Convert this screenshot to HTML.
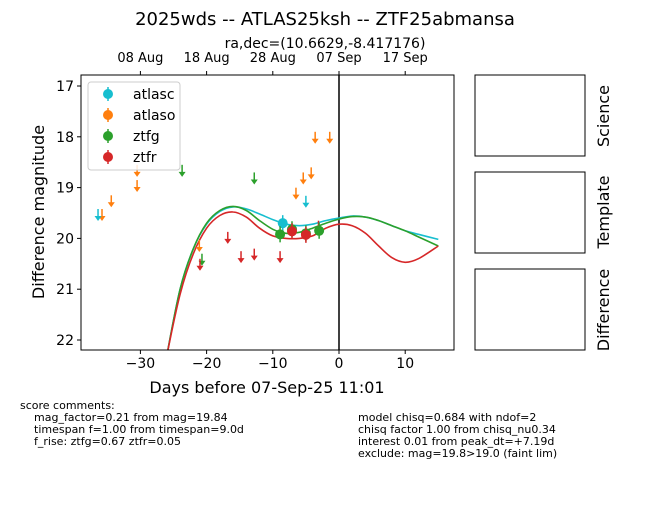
<!DOCTYPE html>
<html><head><meta charset="utf-8"><style>
body{margin:0;background:#fff;font-family:"Liberation Sans","DejaVu Sans",sans-serif;}
svg text{font-family:"DejaVu Sans","Liberation Sans",sans-serif;}
</style></head><body>
<svg id="chart" width="650" height="500" viewBox="0 0 650 500" xmlns="http://www.w3.org/2000/svg">
<text x="325" y="25" font-size="18" text-anchor="middle">2025wds -- ATLAS25ksh -- ZTF25abmansa</text>
<text x="325" y="48" font-size="14" text-anchor="middle">ra,dec=(10.6629,-8.417176)</text>
<g id="plot"></g>
<rect x="475" y="75" width="110" height="81" fill="none" stroke="#000"/>
<rect x="475" y="172" width="110" height="81" fill="none" stroke="#000"/>
<rect x="475" y="269" width="110" height="81" fill="none" stroke="#000"/>
<text transform="translate(609,116) rotate(-90)" font-size="16" text-anchor="middle">Science</text>
<text transform="translate(609,212) rotate(-90)" font-size="16" text-anchor="middle">Template</text>
<text transform="translate(609,310) rotate(-90)" font-size="16" text-anchor="middle">Difference</text>
<g font-size="11">
<text x="20" y="409">score comments:</text>
<text x="34" y="421">mag_factor=0.21 from mag=19.84</text>
<text x="34" y="433">timespan f=1.00 from timespan=9.0d</text>
<text x="34" y="445">f_rise: ztfg=0.67 ztfr=0.05</text>
<text x="358" y="421">model chisq=0.684 with ndof=2</text>
<text x="358" y="433">chisq factor 1.00 from chisq_nu0.34</text>
<text x="358" y="445">interest 0.01 from peak_dt=+7.19d</text>
<text x="358" y="457">exclude: mag=19.8&gt;19.0 (faint lim)</text>
</g>
</svg>
<script>
const xTicks=[-30,-20,-10,0,10];
const yTicks=[17,18,19,20,21,22];
const topTickLabels=["08 Aug","18 Aug","28 Aug","07 Sep","17 Sep"];
const atlascLim=[[-36.4,19.52],[-5.0,19.26]];
const atlascDet=[[-8.5,19.7]];
const atlasoLim=[[-35.8,19.52],[-34.4,19.25],[-30.5,18.95],[-30.5,18.65],[-21.1,20.13],[-6.5,19.1],[-5.4,18.8],[-4.2,18.7],[-3.6,18.0],[-1.4,18.0]];
const ztfgLim=[[-23.7,18.65],[-12.8,18.8],[-20.7,20.4]];
const ztfgDet=[[-8.9,19.92],[-7.1,19.82],[-5.0,19.9],[-3.0,19.85]];
const ztfrLim=[[-16.8,19.97],[-14.8,20.35],[-12.8,20.3],[-21.0,20.5],[-8.9,20.35],[-3.1,19.75]];
const ztfrDet=[[-7.1,19.86],[-5.0,19.93]];
const curveDays=[-26.5,-26,-24,-22,-20,-18,-16,-14,-12,-10,-8,-6,-4,-2,0,2,4,6,8,10,12,15];
const curveG=[22.7,22.3,21.0,20.2,19.7,19.45,19.37,19.45,19.65,19.82,19.9,19.88,19.8,19.7,19.62,19.57,19.58,19.65,19.75,19.85,19.97,20.15];
const curveC=[22.7,22.3,21.0,20.2,19.72,19.47,19.38,19.42,19.52,19.63,19.72,19.75,19.72,19.65,19.6,19.56,19.58,19.65,19.75,19.85,19.92,20.02];
const curveR=[22.7,22.3,21.1,20.3,19.8,19.55,19.48,19.58,19.8,19.95,20.0,20.0,19.95,19.8,19.72,19.75,19.9,20.15,20.38,20.47,20.4,20.15];
const L=81,R=454,T=75,B=350;
const xs=d=>339+d*6.62;
const ys=m=>86+(m-17)*50.8;
const NS="http://www.w3.org/2000/svg";
const g=document.getElementById('plot');
function mk(tag,attrs,parent){const e=document.createElementNS(NS,tag);for(const k in attrs)e.setAttribute(k,attrs[k]);(parent||g).appendChild(e);return e;}
const defs=mk('defs',{});const cp=mk('clipPath',{id:'c'},defs);mk('rect',{x:L,y:T,width:R-L,height:B-T},cp);
const inner=mk('g',{'clip-path':'url(#c)'});
mk('line',{x1:xs(0),x2:xs(0),y1:T,y2:B,stroke:'#000','stroke-width':1.5},inner);
function curve(arr,col,name){
const P=curveDays.map((t,i)=>[xs(t),ys(arr[i])]);
let d='M'+P[0][0].toFixed(1)+','+P[0][1].toFixed(1);
for(let i=0;i<P.length-1;i++){const p0=P[Math.max(0,i-1)],p1=P[i],p2=P[i+1],p3=P[Math.min(P.length-1,i+2)];
const c1=[p1[0]+(p2[0]-p0[0])/6,p1[1]+(p2[1]-p0[1])/6];const c2=[p2[0]-(p3[0]-p1[0])/6,p2[1]-(p3[1]-p1[1])/6];
d+=`C${c1[0].toFixed(1)},${c1[1].toFixed(1)} ${c2[0].toFixed(1)},${c2[1].toFixed(1)} ${p2[0].toFixed(1)},${p2[1].toFixed(1)}`;}
const p=mk('path',{d:d,fill:'none',stroke:col,'stroke-width':1.6,'stroke-linejoin':'round'},inner);

}
curve(curveC,'#17becf','model-atlasc');curve(curveG,'#2ca02c','model-ztfg');curve(curveR,'#d62728','model-ztfr');
function lim(arr,col,name){arr.forEach(([d,m])=>{const x=xs(d),y=ys(m);const e=mk('g',{},inner);


mk('line',{x1:x,x2:x,y1:y-5,y2:y+5,stroke:col,'stroke-width':1.5},e);
mk('path',{d:`M${x-3.5},${y+2}L${x+3.5},${y+2}L${x},${y+7}Z`,fill:col},e);});}
function det(arr,col,name){arr.forEach(([d,m])=>{const x=xs(d),y=ys(m);const e=mk('g',{},inner);


mk('line',{x1:x,x2:x,y1:y-8,y2:y+8,stroke:col,'stroke-width':1.5},e);
mk('circle',{cx:x,cy:y,r:5,fill:col},e);});}
lim(atlasoLim,'#ff7f0e','atlaso-upper-limit');lim(atlascLim,'#17becf','atlasc-upper-limit');
lim(ztfgLim,'#2ca02c','ztfg-upper-limit');lim(ztfrLim,'#d62728','ztfr-upper-limit');
det(atlascDet,'#17becf','atlasc-point');det(ztfgDet,'#2ca02c','ztfg-point');det(ztfrDet,'#d62728','ztfr-point');
mk('rect',{x:L,y:T,width:R-L,height:B-T,fill:'none',stroke:'#000','stroke-width':1});
xTicks.forEach((t,i)=>{const x=xs(t);
mk('line',{x1:x,x2:x,y1:B,y2:B+4,stroke:'#000'});
const tx=mk('text',{x:x,y:B+18,'font-size':14,'text-anchor':'middle'});tx.textContent=(t<0?'\u2212'+(-t):t);


mk('line',{x1:x,x2:x,y1:T,y2:T-4,stroke:'#000'});
const tt=mk('text',{x:x,y:T-13,'font-size':13,'text-anchor':'middle'});tt.textContent=topTickLabels[i];

});
yTicks.forEach(t=>{const y=ys(t);mk('line',{x1:L,x2:L-4,y1:y,y2:y,stroke:'#000'});
const tx=mk('text',{x:L-7,y:y+5,'font-size':14,'text-anchor':'end'});tx.textContent=t;

});
const xt=mk('text',{x:267,y:393,'font-size':16,'text-anchor':'middle'});xt.textContent='Days before 07-Sep-25 11:01';


const yt=mk('text',{transform:'translate(44,212) rotate(-90)','font-size':16,'text-anchor':'middle'});yt.textContent='Difference magnitude';


const lg=mk('g',{});


mk('rect',{x:88,y:82,width:92,height:88,rx:3,fill:'#fff','fill-opacity':0.85,stroke:'#ccc'},lg);
[['atlasc','#17becf'],['atlaso','#ff7f0e'],['ztfg','#2ca02c'],['ztfr','#d62728']].forEach(([n,c],i)=>{const y=94+i*21;
const e=mk('g',{},lg);


mk('line',{x1:108,x2:108,y1:y-7,y2:y+7,stroke:c,'stroke-width':1.5},e);
mk('circle',{cx:108,cy:y,r:5,fill:c},e);
const t=mk('text',{x:133,y:y+5,'font-size':14},e);t.textContent=n;});
</script>
</body></html>
